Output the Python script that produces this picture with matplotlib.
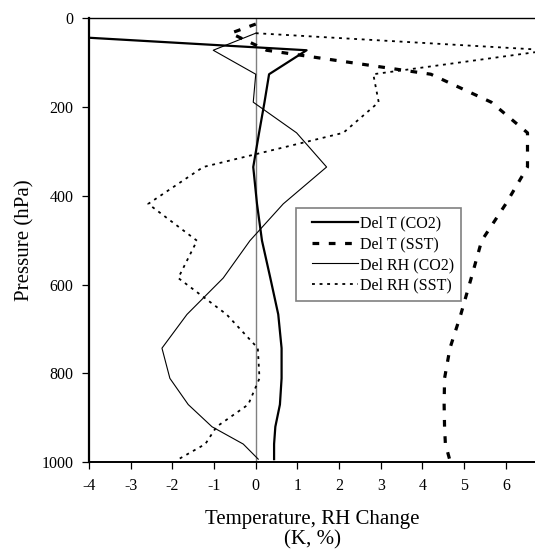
import numpy as np
import matplotlib
matplotlib.use('agg')
import matplotlib.pyplot as plt
from matplotlib.lines import Line2D
from matplotlib.legend_handler import HandlerLine2D

# model levels (hPa)
lev = [13.0, 33.6, 72.0, 126.0, 189.0, 258.0, 335.0, 418.0, 501.0, 585.0,
       667.0, 743.0, 811.0, 870.0, 920.0, 959.0, 993.0]

# temperature change (K), CO2 run (no value at top level)
dT_co2 = [np.nan, -5.9, 1.22, 0.32, 0.21, 0.08, -0.06, 0.03, 0.15, 0.35,
          0.54, 0.62, 0.62, 0.58, 0.47, 0.44, 0.44]
# temperature change (K), SST run
dT_sst = [0.0, -0.6, 0.26, 4.2, 5.65, 6.52, 6.52, 6.0, 5.42, 5.17,
          4.92, 4.66, 4.53, 4.52, 4.53, 4.55, 4.65]
# relative humidity change (%), CO2 run
dRH_co2 = [np.nan, 0.0, -1.02, 0.0, -0.06, 0.98, 1.70, 0.66, -0.14, -0.78,
           -1.65, -2.25, -2.06, -1.62, -1.05, -0.3, 0.06]
# relative humidity change (%), SST run
dRH_sst = [np.nan, 0.0, 7.05, 2.82, 2.95, 2.1, -1.26, -2.58, -1.41, -1.86,
           -0.7, 0.05, 0.09, -0.18, -0.94, -1.21, -1.85]

labels = ['Del T (CO2)', 'Del T (SST)', 'Del RH (CO2)', 'Del RH (SST)']
xticks = [-4, -3, -2, -1, 0, 1, 2, 3, 4, 5, 6]
yticks = [0, 200, 400, 600, 800, 1000]

plt.rcParams['font.family'] = ['Liberation Serif', 'DejaVu Serif']
plt.rcParams['axes.unicode_minus'] = False

fig = plt.figure(figsize=(5.35, 5.49), dpi=100)
ax = fig.add_axes([0.1664, 0.158, 0.8336, 0.8087])

ax.axvline(0, color='#808080', lw=1.0, zorder=1)

ax.plot(dT_co2, lev, color='black', lw=1.6, label=labels[0])
ax.plot(dT_sst, lev, color='black', lw=2.3, dashes=(2.1, 3.0), label=labels[1])
ax.plot(dRH_co2, lev, color='black', lw=0.8, label=labels[2])
ax.plot(dRH_sst, lev, color='black', lw=1.3, dashes=(1.6, 2.6), label=labels[3])

ax.set_xlim(-4, 6.7)
ax.set_ylim(1000, 0)
ax.set_xticks(xticks)
ax.set_yticks(yticks)
ax.tick_params(labelsize=11.5, direction='out', length=5, width=0.9, pad=6)

ax.spines['right'].set_visible(False)
ax.spines['left'].set_linewidth(1.6)
ax.spines['bottom'].set_linewidth(1.4)
ax.spines['top'].set_linewidth(1.0)

ax.set_xlabel('Temperature, RH Change\n(K, %)', fontsize=15, labelpad=12,
              linespacing=1.1)
ax.set_ylabel('Pressure (hPa)', fontsize=15, labelpad=5)

leg = ax.legend(loc='upper left', bbox_to_anchor=(0.464, 0.572), borderaxespad=0,
                fontsize=11.5, fancybox=False, framealpha=1, edgecolor='#808080',
                handlelength=3.45, handletextpad=0.1, borderpad=0.45,
                labelspacing=0.3, handler_map={Line2D: HandlerLine2D(xpad=0.55)})
leg.get_frame().set_linewidth(1.2)

fig.savefig('out.png', dpi=100)
